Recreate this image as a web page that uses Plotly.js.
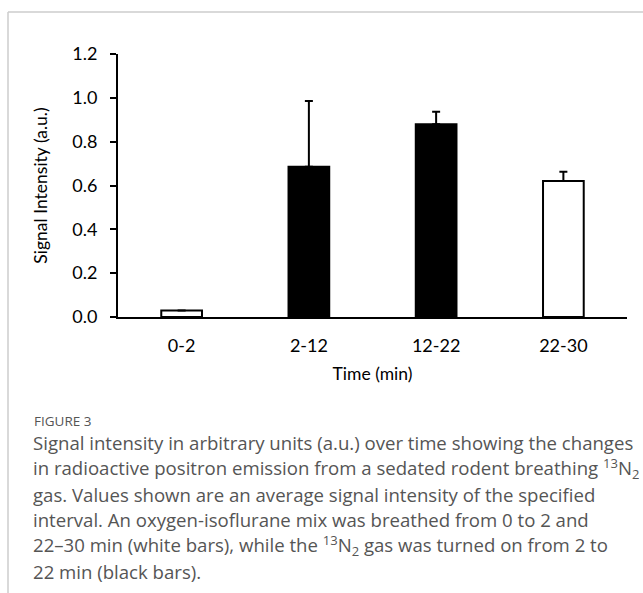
<!DOCTYPE html>
<html>
<head>
<meta charset="utf-8">
<script src="https://cdn.plot.ly/plotly-3.0.1.min.js"></script>
<style>html,body{margin:0;padding:0;background:#fff;}</style>
</head>
<body>
<div id="chart" style="width:643px;height:593px;"></div>
<script>
// Data
var categories = ["0-2", "2-12", "12-22", "22-30"];
var signalValues = [0.03, 0.685, 0.88, 0.62];
var errorPlus = [0, 0.30, 0.056, 0.043];
var barColors = ["#ffffff", "#000000", "#000000", "#ffffff"];
var yTickValues = [0, 0.2, 0.4, 0.6, 0.8, 1.0, 1.2];
var yTickLabels = ["0.0", "0.2", "0.4", "0.6", "0.8", "1.0", "1.2"];

var W = 643, H = 593;
var L = 118, R = 16, T = 54, B = 276;
var pw = W - L - R, ph = H - T - B;
function px(x) { return (x - L) / pw; }
function py(y) { return (H - B - y) / ph; }

var trace = {
  type: "bar",
  x: categories,
  y: signalValues,
  width: 0.32,
  marker: { color: barColors, line: { color: "#000", width: 2 } },
  error_y: {
    type: "data", array: errorPlus, symmetric: false,
    arrayminus: errorPlus.map(function(){return 0;}),
    color: "#000", thickness: 2, width: 4
  },
  hoverinfo: "none"
};

var tickFont = { family: "Lato", size: 18, color: "#000" };
var titleFont = { family: "Lato", size: 17.5, color: "#000" };
var capFont = { family: "Open Sans", size: 18.6, color: "#555" };

var captionLines = [
  "Signal intensity in arbitrary units (a.u.) over time showing the changes",
  "in radioactive positron emission from a sedated rodent breathing <sup>13</sup>N<sub>2</sub>",
  "gas. Values shown are an average signal intensity of the specified",
  "interval. An oxygen-isoflurane mix was breathed from 0 to 2 and",
  "22–30 min (white bars), while the <sup>13</sup>N<sub>2</sub> gas was turned on from 2 to",
  "22 min (black bars)."
];

var annotations = [{
  xref: "paper", yref: "paper", x: px(32), y: py(421),
  xanchor: "left", yanchor: "middle", showarrow: false,
  text: "FIGURE 3", font: { family: "Open Sans", size: 13.5, color: "#555" }
}];
captionLines.forEach(function(t, i) {
  annotations.push({
    xref: "paper", yref: "paper", x: px(31), y: py(443 + i * 25.6),
    xanchor: "left", yanchor: "middle", showarrow: false, align: "left",
    height: 25, valign: "middle",
    text: t, font: capFont
  });
});

var layout = {
  width: W, height: H,
  margin: { l: L, r: R, t: T, b: B, pad: 0 },
  paper_bgcolor: "#fff", plot_bgcolor: "#fff",
  showlegend: false,
  xaxis: {
    type: "category", range: [-0.5, 3.5],
    showline: true, linecolor: "#000", linewidth: 2,
    ticks: "", showgrid: false, zeroline: false,
    tickfont: tickFont, ticklabelstandoff: 11,
    title: { text: "Time (min)", font: titleFont, standoff: 13 }
  },
  yaxis: {
    range: [0, 1.2], tickvals: yTickValues, ticktext: yTickLabels,
    showline: true, linecolor: "#000", linewidth: 2,
    ticks: "outside", ticklen: 6, tickwidth: 2, tickcolor: "#000",
    showgrid: false, zeroline: false,
    tickfont: tickFont, ticklabelstandoff: 9,
    title: { text: "Signal Intensity (a.u.)", font: titleFont, standoff: 20 }
  },
  shapes: [
    { type: "line", xref: "paper", yref: "paper", x0: px(8), x1: px(643), y0: py(12), y1: py(12), line: { color: "#cccccc", width: 1.5 } },
    { type: "line", xref: "paper", yref: "paper", x0: px(8), x1: px(8), y0: py(12), y1: py(593), line: { color: "#cccccc", width: 1.5 } }
  ],
  annotations: annotations
};

Plotly.newPlot("chart", [trace], layout, { staticPlot: true, displayModeBar: false });
</script>
</body>
</html>
